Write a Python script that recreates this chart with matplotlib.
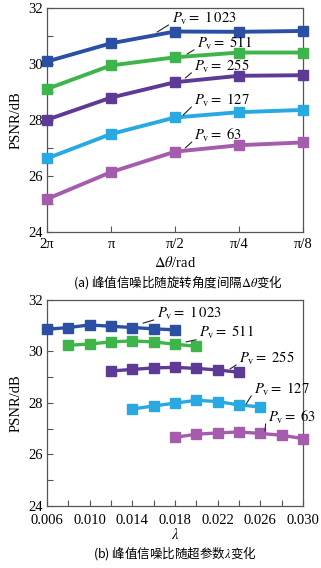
import matplotlib
matplotlib.use("Agg")
import matplotlib.pyplot as plt
from matplotlib.ticker import MultipleLocator

plt.rcParams['font.family'] = ['Liberation Serif', 'Noto Sans CJK SC', 'DejaVu Sans']
plt.rcParams['mathtext.fontset'] = 'stix'

# ---- data (a) ----
theta_labels = ['2π', 'π', 'π/2', 'π/4', 'π/8']
a_1023 = [30.09, 30.74, 31.16, 31.15, 31.18]
a_511 = [29.11, 29.95, 30.24, 30.41, 30.41]
a_255 = [28.01, 28.80, 29.35, 29.58, 29.60]
a_127 = [26.63, 27.50, 28.09, 28.28, 28.36]
a_63 = [25.18, 26.14, 26.87, 27.10, 27.20]

# ---- data (b) ----
lam_1023 = [0.006, 0.008, 0.010, 0.012, 0.014, 0.016, 0.018]
b_1023 = [30.86, 30.93, 31.03, 30.98, 30.93, 30.88, 30.84]
lam_511 = [0.008, 0.010, 0.012, 0.014, 0.016, 0.018, 0.020]
b_511 = [30.24, 30.29, 30.37, 30.41, 30.37, 30.28, 30.20]
lam_255 = [0.012, 0.014, 0.016, 0.018, 0.020, 0.022, 0.024]
b_255 = [29.24, 29.30, 29.36, 29.38, 29.34, 29.28, 29.19]
lam_127 = [0.014, 0.016, 0.018, 0.020, 0.022, 0.024, 0.026]
b_127 = [27.76, 27.88, 27.99, 28.10, 28.05, 27.92, 27.84]
lam_63 = [0.018, 0.020, 0.022, 0.024, 0.026, 0.028, 0.030]
b_63 = [26.66, 26.78, 26.83, 26.87, 26.81, 26.74, 26.61]

pv_labels = [r'1\,023', '511', '255', '127', '63']
colors = ['#2b50a3', '#3db54a', '#5e3a97', '#29a9e1', '#a65cad']
lam_ticks = [0.006, 0.010, 0.014, 0.018, 0.022, 0.026, 0.030]
lam_ticklabels = ['0.006', '0.010', '0.014', '0.018', '0.022', '0.026', '0.030']

fig = plt.figure(figsize=(3.21, 5.68), dpi=100)
ax1 = fig.add_axes([0.1464, 0.5915, 0.7976, 0.3944])
ax2 = fig.add_axes([0.1464, 0.1097, 0.7976, 0.3621])

FS = 10.5
AFS = 10.5
spine_c = '#555555'

def style(ax):
    for s in ax.spines.values():
        s.set_color(spine_c)
        s.set_linewidth(0.9)
    ax.tick_params(direction='in', length=4, width=0.8, color=spine_c, labelsize=FS, pad=4)
    ax.tick_params(axis='y', pad=3)
    ax.tick_params(which='minor', direction='in', length=4, width=0.8, color=spine_c)
    ax.set_ylim(24, 32)
    ax.yaxis.set_major_locator(MultipleLocator(2))
    ax.yaxis.set_minor_locator(MultipleLocator(1))
    ax.set_ylabel('PSNR/dB', fontsize=FS, labelpad=4)

def label(ax, xy, xt, lab):
    ax.annotate(r'$P_{\mathrm{v}}=$' + ' ' + r'$\mathrm{' + lab + '}$', xy=xy, xytext=xt,
                fontsize=AFS, ha='left', va='center', zorder=5,
                arrowprops=dict(arrowstyle='-', color='#222222', lw=0.8,
                                patchA=None, shrinkA=0, shrinkB=0, relpos=(-0.05, 0.1)))

# ---- panel a ----
xa = list(range(len(theta_labels)))
series_a = [a_1023, a_511, a_255, a_127, a_63]
for ys, c in zip(series_a, colors):
    ax1.plot(xa, ys, color=c, lw=2.8, marker='s', ms=7.5, mec=c, mfc=c, clip_on=False, zorder=3)
style(ax1)
ax1.set_xlim(0, 4)
ax1.set_xticks(xa)
ax1.set_xticklabels(theta_labels)
ax1.set_xlabel(r'$\Delta\theta$/rad', fontsize=FS, labelpad=3)

ann_a = [((1.72, 31.14), (1.95, 31.64)),
         ((2.19, 30.36), (2.34, 30.75)),
         ((2.16, 29.50), (2.30, 29.93)),
         ((2.13, 28.18), (2.30, 28.71)),
         ((2.16, 27.00), (2.30, 27.46))]
for (xy, xt), lab in zip(ann_a, pv_labels):
    label(ax1, xy, xt, lab)

# ---- panel b ----
series_b = [(lam_1023, b_1023), (lam_511, b_511), (lam_255, b_255), (lam_127, b_127), (lam_63, b_63)]
for (xs, ys), c in zip(series_b, colors):
    ax2.plot(xs, ys, color=c, lw=2.4, marker='s', ms=7, mec=c, mfc=c, clip_on=False, zorder=3)
style(ax2)
ax2.tick_params(axis='x', pad=6)
ax2.set_xlim(0.006, 0.030)
ax2.xaxis.set_minor_locator(MultipleLocator(0.002))
ax2.set_xticks(lam_ticks)
ax2.set_xticklabels(lam_ticklabels)
ax2.set_xlabel(r'$\lambda$', fontsize=FS, labelpad=0)

ann_b = [((0.0150, 31.10), (0.01631, 31.49)),
         ((0.01903, 30.37), (0.02025, 30.72)),
         ((0.02316, 29.32), (0.0240, 29.74)),
         ((0.02466, 27.95), (0.02541, 28.54)),
         ((0.02644, 26.90), (0.02672, 27.45))]
for (xy, xt), lab in zip(ann_b, pv_labels):
    label(ax2, xy, xt, lab)

cap_font = ['Noto Sans CJK SC', 'DejaVu Sans']
fig.text(0.555, 1 - 282 / 568, '(a) 峰值信噪比随旋转角度间隔' + r'$\Delta\theta$' + '变化',
         ha='center', va='center', fontsize=9, family=cap_font)
fig.text(0.545, 1 - 553 / 568, '(b) 峰值信噪比随超参数' + r'$\lambda$' + '变化',
         ha='center', va='center', fontsize=9, family=cap_font)

fig.savefig('out.png', dpi=100)
